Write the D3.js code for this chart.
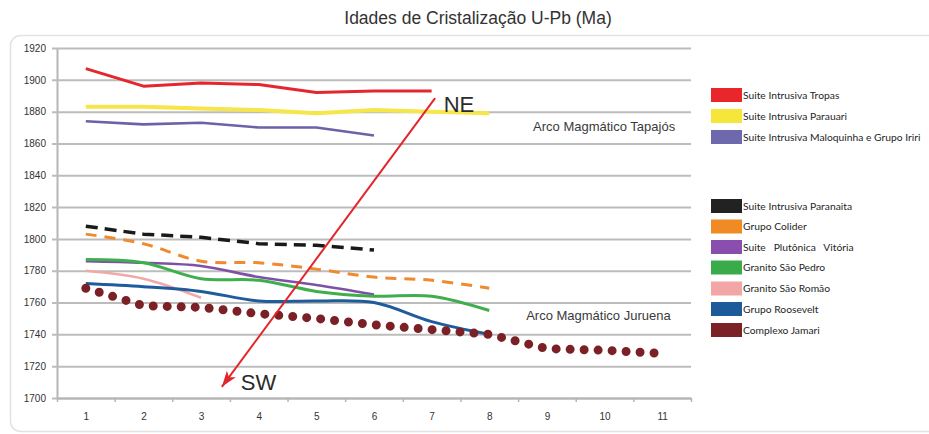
<!DOCTYPE html>
<html>
<head>
<meta charset="utf-8">
<script src="https://cdn.jsdelivr.net/npm/d3@7"></script>
<style>
  body { margin: 0; background: #fff; }
  svg { display: block; }
</style>
</head>
<body>
<div id="chart"></div>
<script>
// categories on the x axis
var categories = [1, 2, 3, 4, 5, 6, 7, 8, 9, 10, 11];
var yTicks = [1700, 1720, 1740, 1760, 1780, 1800, 1820, 1840, 1860, 1880, 1900, 1920];

// series values (Ma)
var tropas     = [1907, 1896, 1898, 1897, 1892, 1893, 1893];
var parauari   = [1883, 1883, 1882, 1881, 1879, 1881, 1880, 1879];
var maloquinha = [1874, 1872, 1873, 1870, 1870, 1865];
var paranaita  = [1808, 1803, 1801, 1797, 1796, 1793];
var colider    = [1803, 1797, 1786, 1785, 1781, 1776, 1774, 1769];
var vitoria    = [1786, 1785, 1783, 1776, 1771, 1765];
var saoPedro   = [1787, 1785, 1775, 1774, 1767, 1764, 1764, 1755];
var saoRomao   = [1780, 1775, 1763];
var roosevelt  = [1772, 1770, 1767, 1761, 1761, 1760, 1748, 1740];
var jamari     = [1769, 1758, 1757, 1753, 1750, 1746, 1743, 1740, 1731, 1730, 1728];

var names = ["Suite Intrusiva Tropas", "Suite Intrusiva Parauari", "Suite Intrusiva Maloquinha e Grupo Iriri",
             "Suite Intrusiva Paranaita", "Grupo Colider", "Suite   Plutônica   Vitória", "Granito São Pedro",
             "Granito São Romão", "Grupo Roosevelt", "Complexo Jamari"];
var seriesValues = [tropas, parauari, maloquinha, paranaita, colider, vitoria, saoPedro, saoRomao, roosevelt, jamari];

// annotations, in chart units
var arrowFrom = [7.06, 1888.5];
var arrowTo = [3.36, 1707];
var arcLabels = [
    {text: "Arco Magmático Tapajós", x: 8.76, y: 1868},
    {text: "Arco Magmático Juruena", x: 8.64, y: 1749}
];
var dirLabels = [
    {text: "NE", x: 7.21, y: 1880},
    {text: "SW", x: 3.69, y: 1705}
];

// styles (kept apart from the data)
var lineColors  = ["#e5262c", "#f6e64a", "#6b62a8", "#1a1a1a", "#ef8a2e", "#7d52a6", "#3fae4c", "#eeaaa9", "#1f5c9c", "#7b2126"];
var swatchColors = ["#e8262b", "#f7e63a", "#6e68ad", "#222222", "#f08a24", "#8a4fae", "#3aab4a", "#f2a6a6", "#1d5a9a", "#7a2226"];
var lineWidths  = [3, 4, 2.6, 3.5, 3, 2.6, 3, 2.6, 3, 9];
var lineDash    = [null, null, null, "12,7", "11,8", null, null, null, null, "0,14"];
var smooth      = [false, false, false, false, true, true, true, true, true, false];

var W = 929, H = 434;
var margin = {top: 48, left: 57, right: 238, bottom: 36};
var plotW = W - margin.left - margin.right;
var plotH = H - margin.top - margin.bottom;

var svg = d3.select("#chart").append("svg")
    .attr("width", W)
    .attr("height", H);

// frame of the chart area
svg.append("rect")
    .attr("x", 10.5).attr("y", 35.5)
    .attr("width", 940).attr("height", 396)
    .attr("rx", 10)
    .style("fill", "#fff")
    .style("stroke", "#e2e2e2")
    .style("stroke-width", 1.5);

// title
svg.append("text")
    .attr("x", 478)
    .attr("y", 24)
    .attr("text-anchor", "middle")
    .style("font-family", "Liberation Sans, Arial, sans-serif")
    .style("font-size", "17.5px")
    .style("fill", "#333")
    .text("Idades de Cristalização U-Pb (Ma)");

var g = svg.append("g")
    .attr("transform", "translate(" + margin.left + "," + margin.top + ")");

var x = d3.scaleLinear().domain([0.5, 11.5]).range([0, plotW]);
var y = d3.scaleLinear().domain([1700, 1920]).range([plotH, 0]);

// y axis with gridlines
var yAxis = g.append("g")
    .call(d3.axisLeft(y).tickValues(yTicks).tickFormat(d3.format("d"))
        .tickSize(-plotW).tickSizeOuter(0).tickPadding(11));
yAxis.selectAll(".tick line")
    .attr("x1", -5)
    .style("stroke", "#bcbcbc")
    .style("stroke-width", 2);
yAxis.select(".domain").style("stroke", "#b5b5b5").style("stroke-width", 2);
yAxis.selectAll("text")
    .style("font-family", "Liberation Sans, Arial, sans-serif")
    .style("font-size", "10px")
    .style("fill", "#333");

// x axis: labels at categories, tick marks between them
var xLabels = g.append("g")
    .attr("transform", "translate(0," + plotH + ")")
    .call(d3.axisBottom(x).tickValues(categories).tickSize(0).tickPadding(15).tickFormat(d3.format("d")));
xLabels.select(".domain").style("stroke", "#b5b5b5").style("stroke-width", 2);
xLabels.selectAll("text")
    .style("font-family", "Liberation Sans, Arial, sans-serif")
    .style("font-size", "10px")
    .style("fill", "#333");

var betweens = d3.range(0.5, 12, 1);
var xTicks = g.append("g")
    .attr("transform", "translate(0," + plotH + ")")
    .call(d3.axisBottom(x).tickValues(betweens).tickSize(4).tickFormat(""));
xTicks.select(".domain").remove();
xTicks.selectAll("line").style("stroke", "#b5b5b5").style("stroke-width", 1.5);

// series lines
seriesValues.forEach(function(vals, i) {
    var line = d3.line()
        .x(function(d, j) { return x(categories[j]); })
        .y(function(d) { return y(d); })
        .curve(smooth[i] ? d3.curveCatmullRom.alpha(0.5) : d3.curveLinear);
    var p = g.append("path")
        .datum(vals)
        .attr("d", line)
        .style("fill", "none")
        .style("stroke", lineColors[i])
        .style("stroke-width", lineWidths[i])
        .style("stroke-linejoin", "round");
    if (lineDash[i]) p.style("stroke-dasharray", lineDash[i]);
    if (i === 9) p.style("stroke-linecap", "round");
});

// arc labels
arcLabels.forEach(function(d) {
    g.append("text")
        .attr("x", x(d.x))
        .attr("y", y(d.y))
        .style("font-family", "Liberation Sans, Arial, sans-serif")
        .style("font-size", "13px")
        .style("fill", "#3a3a3a")
        .text(d.text);
});

// NE -> SW arrow
svg.append("defs").append("marker")
    .attr("id", "head")
    .attr("markerUnits", "userSpaceOnUse")
    .attr("viewBox", "-16 -6 17 12")
    .attr("markerWidth", 17)
    .attr("markerHeight", 12)
    .attr("refX", 0).attr("refY", 0)
    .attr("orient", "auto")
    .append("path")
    .attr("d", "M0,0L-16,-5.5L-12,0L-16,5.5Z")
    .style("fill", "#e3252b");

g.append("line")
    .attr("x1", x(arrowFrom[0])).attr("y1", y(arrowFrom[1]))
    .attr("x2", x(arrowTo[0])).attr("y2", y(arrowTo[1]))
    .style("stroke", "#e3252b")
    .style("stroke-width", 2)
    .attr("marker-end", "url(#head)");

dirLabels.forEach(function(d) {
    g.append("text")
        .attr("x", x(d.x))
        .attr("y", y(d.y))
        .style("font-family", "Liberation Sans, Arial, sans-serif")
        .style("font-size", "22px")
        .style("fill", "#2b2b2b")
        .text(d.text);
});

// legend
var legendRows = [95, 116, 137, 206, 226.5, 247, 267.5, 288.5, 309, 330];
var legend = svg.append("g");
names.forEach(function(name, i) {
    legend.append("rect")
        .attr("x", 711)
        .attr("y", legendRows[i] - 7)
        .attr("width", 31)
        .attr("height", 14)
        .style("fill", swatchColors[i]);
    legend.append("text")
        .attr("x", 743)
        .attr("y", legendRows[i] + 3.5)
        .style("font-family", "Lato, sans-serif")
        .style("font-size", "10.3px")
        .style("white-space", "pre")
        .style("fill", "#262626")
        .text(name);
});
</script>
</body>
</html>
